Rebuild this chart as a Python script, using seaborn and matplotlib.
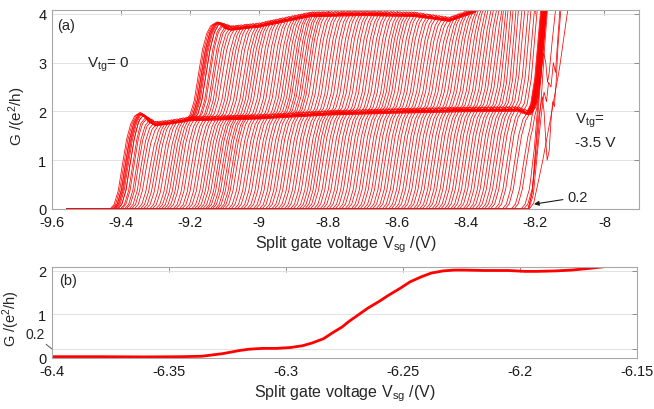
import numpy as np
import pandas as pd
import matplotlib
matplotlib.use("Agg")
import matplotlib.pyplot as plt
import seaborn as sns

# ---- panel (a): one trace per top gate voltage, Vtg = 0 ... -3.5 V ----
# onset of the 0 -> 2 step of each trace (Vsg, V)
first_rise = [-9.432, -9.428, -9.423, -9.418, -9.410, -9.398, -9.385, -9.370, -9.352, -9.336,
              -9.318, -9.300, -9.284, -9.268, -9.250, -9.232, -9.214, -9.196, -9.180, -9.164,
              -9.150, -9.136, -9.122, -9.108, -9.090, -9.072, -9.054, -9.036, -9.018, -9.000,
              -8.982, -8.964, -8.946, -8.928, -8.910, -8.892, -8.876, -8.860, -8.842, -8.824,
              -8.806, -8.788, -8.770, -8.752, -8.734, -8.716, -8.698, -8.680, -8.662, -8.644,
              -8.626, -8.608, -8.590, -8.572, -8.554, -8.536, -8.518, -8.500, -8.482, -8.464,
              -8.446, -8.428, -8.410, -8.392, -8.374, -8.356, -8.338, -8.318, -8.296, -8.270,
              -8.242]
# onset of the 2 -> 4 step of each trace
second_rise = [-9.212, -9.208, -9.203, -9.198, -9.190, -9.178, -9.165, -9.150, -9.132, -9.116,
               -9.098, -9.080, -9.064, -9.048, -9.030, -9.012, -8.994, -8.976, -8.960, -8.944,
               -8.930, -8.916, -8.902, -8.888, -8.870, -8.852, -8.834, -8.816, -8.798, -8.780,
               -8.762, -8.744, -8.726, -8.708, -8.690, -8.672, -8.656, -8.640, -8.622, -8.604,
               -8.586, -8.568, -8.550, -8.532, -8.514, -8.496, -8.478, -8.460, -8.442, -8.424,
               -8.406, -8.388, -8.370, -8.352, -8.334, -8.316, -8.298, -8.280, -8.262, -8.244,
               -8.226, -8.224, -8.223, -8.222, -8.221, -8.220, -8.219, -8.218, -8.217, -8.216,
               -8.215]
# each trace was swept up and back; the return sweep lags by this much (V)
sweep_lags = [0.0, 0.008]
# shape of one step: fraction of the step height vs distance past its onset
step_dv = [0.0, 0.012, 0.024, 0.036, 0.048, 0.060, 0.072, 0.090, 0.110, 0.140]
step_frac = [0.0, 0.05, 0.20, 0.48, 0.75, 0.92, 1.00, 1.03, 0.98, 1.00]
# level of the 2 and 4 plateaus along Vsg
plat2_v = [-9.60, -9.37, -9.345, -9.32, -9.30, -9.25, -9.20, -9.10, -9.00, -8.90, -8.80,
           -8.60, -8.40, -8.25, -8.225, -8.10]
plat2_g = [1.90, 1.90, 1.93, 1.82, 1.74, 1.78, 1.84, 1.86, 1.88, 1.92, 1.96,
           2.00, 2.03, 2.04, 1.97, 1.97]
plat4_v = [-9.60, -9.15, -9.12, -9.08, -9.00, -8.92, -8.85, -8.70, -8.55, -8.45, -8.38,
           -8.30, -8.25, -8.10]
plat4_g = [3.72, 3.75, 3.78, 3.70, 3.76, 3.88, 3.98, 4.00, 3.98, 3.88, 4.05,
           4.40, 5.50, 5.50]
sweep_start = -9.556
sweep_end = -8.10

# the most negative top gate traces, read one by one
last_v = [
    [-9.556, -8.222, -8.210, -8.200, -8.190, -8.182, -8.176, -8.170, -8.165, -8.160, -8.152, -8.140],
    [-9.556, -8.220, -8.208, -8.198, -8.190, -8.180, -8.175, -8.170, -8.166, -8.160, -8.155, -8.150,
     -8.145, -8.140, -8.135, -8.125],
    [-9.556, -8.219, -8.206, -8.195, -8.185, -8.175, -8.168, -8.162, -8.155, -8.148, -8.142, -8.136,
     -8.128],
    [-9.556, -8.218, -8.205, -8.180, -8.155, -8.130, -8.105],
]
last_g = [
    [0, 0, 0.3, 1.2, 2.2, 2.9, 3.2, 3.0, 2.6, 2.8, 3.4, 4.2],
    [0, 0, 0.4, 1.3, 1.9, 2.3, 2.0, 1.4, 1.0, 1.2, 1.8, 2.2, 2.1, 2.6, 3.3, 4.2],
    [0, 0, 0.3, 1.1, 1.8, 2.4, 2.2, 2.6, 2.5, 3.0, 2.8, 3.4, 4.2],
    [0, 0, 0.12, 0.95, 1.9, 2.9, 4.15],
]

# ---- panel (b) ----
b_vsg = [-6.400, -6.380, -6.360, -6.345, -6.336, -6.327, -6.320, -6.316, -6.310, -6.304,
         -6.298, -6.293, -6.289, -6.284, -6.280, -6.276, -6.273, -6.269, -6.265, -6.260,
         -6.256, -6.251, -6.247, -6.242, -6.238, -6.233, -6.228, -6.224, -6.215, -6.205,
         -6.198, -6.193, -6.185, -6.178, -6.170, -6.162]
b_g = [0.03, 0.03, 0.025, 0.03, 0.04, 0.10, 0.17, 0.20, 0.22, 0.22,
       0.24, 0.28, 0.34, 0.44, 0.58, 0.71, 0.84, 0.99, 1.14, 1.30,
       1.44, 1.60, 1.74, 1.86, 1.94, 1.99, 2.01, 2.01, 2.00, 2.00,
       1.98, 1.98, 1.99, 2.01, 2.05, 2.10]

# build the long table of traces
frames = []
n = 0
for lag in sweep_lags:
    for t1, t2 in zip(first_rise, second_rise):
        t1, t2 = t1 + lag, t2 + lag
        v = np.concatenate([[sweep_start, sweep_end], t1 + np.array(step_dv),
                            t2 + np.array(step_dv), plat2_v, plat4_v])
        v = np.unique(v[(v >= sweep_start) & (v <= sweep_end)])
        g2 = np.interp(v, plat2_v, plat2_g)
        g4 = np.interp(v, plat4_v, plat4_g)
        g = (g2 * np.interp(v - t1, step_dv, step_frac, left=0, right=1)
             + (g4 - g2) * np.interp(v - t2, step_dv, step_frac, left=0, right=1))
        frames.append(pd.DataFrame({"vsg": v, "G": g, "trace": n}))
        n += 1
for v, g in zip(last_v, last_g):
    frames.append(pd.DataFrame({"vsg": v, "G": g, "trace": n}))
    n += 1
traces = pd.concat(frames, ignore_index=True)

sns.set_style("white")
plt.rcParams["font.family"] = ["Liberation Sans", "DejaVu Sans"]
plt.rcParams["mathtext.fontset"] = "custom"
plt.rcParams["mathtext.rm"] = "Liberation Sans"
plt.rcParams["mathtext.it"] = "Liberation Sans:italic"

fig = plt.figure(figsize=(6.54, 4.10), dpi=100)
ax1 = fig.add_axes([52 / 654, 1 - 210 / 410, 587 / 654, 199 / 410])
ax2 = fig.add_axes([52 / 654, 1 - 359 / 410, 585 / 654, 91 / 410])

sns.lineplot(data=traces, x="vsg", y="G", units="trace", estimator=None, sort=False,
             color="#ff0000", lw=0.55, ax=ax1, legend=False)
sns.lineplot(x=b_vsg, y=b_g, color="#ff0000", lw=2.0, ax=ax2)

for ax in (ax1, ax2):
    ax.grid(axis="y", color="#e2e2e2", lw=0.7)
    ax.grid(axis="x", visible=False)
    ax.set_axisbelow(True)
    for s in ax.spines.values():
        s.set_color("#a8a8a8")
        s.set_linewidth(0.8)
    ax.tick_params(direction="in", length=3.5, width=0.6, color="#808080",
                   labelcolor="#1a1a1a", labelsize=10.5, top=True, right=True, pad=4)

lab = "Split gate voltage V$_{\\mathrm{sg}}$ /(V)"
glab = "G /(e$^{2}$/h)"

ax1.set_xlim(-9.6, -7.9)
ax1.set_ylim(0, 4.08)
ax1.set_xticks(np.arange(-9.6, -7.95, 0.2))
ax1.set_xticklabels(["-9.6", "-9.4", "-9.2", "-9", "-8.8", "-8.6", "-8.4", "-8.2", "-8"])
ax1.set_yticks([0, 1, 2, 3, 4])
ax1.set_yticklabels(["0", "1", "2", "3", "4"])
ax1.set_xlabel(lab, fontsize=11.5)
ax1.set_ylabel(glab, fontsize=11)
ax1.xaxis.set_label_coords(0.5, -0.125)
ax1.yaxis.set_label_coords(-0.041, 0.47)

ax1.text(-9.585, 3.78, "(a)", fontsize=10.5, va="center", ha="left")
ax1.text(-9.5, 2.98, "V$_{\\mathrm{tg}}$= 0", fontsize=11, va="center", ha="left")
ax1.text(-8.086, 1.82, "V$_{\\mathrm{tg}}$=", fontsize=11, va="center", ha="left")
ax1.text(-8.086, 1.38, "-3.5 V", fontsize=11, va="center", ha="left")
ax1.annotate("0.2", xy=(-8.204, 0.1), xytext=(-8.107, 0.24), fontsize=10.5, va="center",
             arrowprops=dict(arrowstyle="-|>", color="#1a1a1a", lw=0.8,
                             mutation_scale=7, shrinkA=1, shrinkB=0))

ax2.set_xlim(-6.4, -6.15)
ax2.set_ylim(0, 2.08)
ax2.set_xticks([-6.4, -6.35, -6.3, -6.25, -6.2, -6.15])
ax2.set_xticklabels(["-6.4", "-6.35", "-6.3", "-6.25", "-6.2", "-6.15"])
ax2.set_yticks([0, 0.2, 1, 2])
ax2.set_yticklabels(["0", "", "1", "2"])
ax2.set_xlabel(lab, fontsize=11.5)
ax2.set_ylabel(glab, fontsize=10.5)
ax2.xaxis.set_label_coords(0.5, -0.27)
ax2.yaxis.set_label_coords(-0.052, 0.45)
ax2.text(-6.397, 1.78, "(b)", fontsize=10.5, va="center", ha="left")
ax2.text(-0.012, 0.26, "0.2", fontsize=10, transform=ax2.transAxes, ha="right", va="center")
ax2.plot([-0.01, 0.0], [0.15, 0.098], transform=ax2.transAxes, color="#555555", lw=0.7,
         clip_on=False)

fig.savefig("out.png", dpi=100)
